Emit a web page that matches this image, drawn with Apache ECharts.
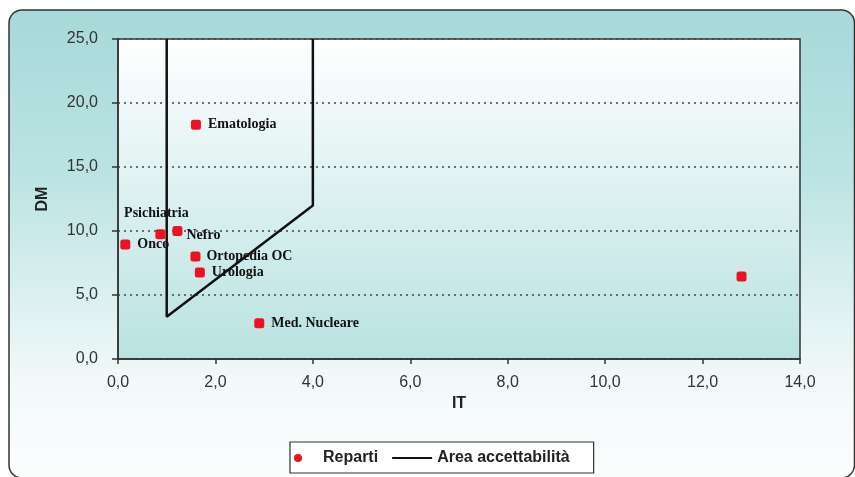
<!DOCTYPE html>
<html>
<head>
<meta charset="utf-8">
<script src="https://cdn.jsdelivr.net/npm/echarts@6/dist/echarts.min.js"></script>
<style>
html,body{margin:0;padding:0;background:#ffffff;}
#chart{width:855px;height:477px;}
</style>
</head>
<body>
<div id="chart"></div>
<script>
// ---- Data ----
const repartiNames = ['Ematologia', 'Psichiatria', 'Nefro', 'Onco', 'Ortopedia OC', 'Urologia', 'Med. Nucleare', ''];
const repartiIT = [1.6, 0.87, 1.22, 0.15, 1.59, 1.68, 2.9, 12.8];
const repartiDM = [18.3, 9.75, 10.0, 8.95, 8.0, 6.75, 2.8, 6.45];
const areaIT = [1, 1, 4, 4];
const areaDM = [25, 3.3, 12, 25];
const xTicks = [0, 2, 4, 6, 8, 10, 12, 14];
const yTicks = [0, 5, 10, 15, 20, 25];
const seriesNames = ['Reparti', 'Area accettabilità'];
const axisNames = {x: 'IT', y: 'DM'};

// ---- Label placement tweaks (style, not data) ----
const labelTweaks = {
  'Psichiatria': {position: 'top', distance: 9, offset: [-4, 0]},
  'Nefro': {position: 'right', distance: 4, offset: [0, 4]},
  'Ortopedia OC': {position: 'right', distance: 6}
};

const fmt = v => v.toFixed(1).replace('.', ',');

const scatterData = repartiNames.map((n, i) => {
  const item = {name: n, value: [repartiIT[i], repartiDM[i]]};
  if (labelTweaks[n]) item.label = labelTweaks[n];
  return item;
});
const areaData = areaIT.map((x, i) => [x, areaDM[i]]);

const chart = echarts.init(document.getElementById('chart'), null, {renderer: 'canvas'});

const option = {
  animation: false,
  backgroundColor: '#ffffff',
  graphic: [{
    type: 'rect',
    z: -10,
    silent: true,
    shape: {x: 9, y: 10, width: 845.5, height: 468, r: 13},
    style: {
      fill: new echarts.graphic.LinearGradient(0, 0, 0, 1, [
        {offset: 0, color: '#a7d9d9'},
        {offset: 0.35, color: '#bbe3e3'},
        {offset: 0.8, color: '#f3f9f9'},
        {offset: 1, color: '#fbfdfd'}
      ]),
      stroke: '#333333',
      lineWidth: 1.5
    }
  }],
  grid: {
    left: 118, right: 55, top: 39, bottom: 118,
    show: true,
    outerBoundsMode: 'none',
    borderColor: '#333333',
    borderWidth: 1.5,
    backgroundColor: new echarts.graphic.LinearGradient(0, 0, 0, 1, [
      {offset: 0, color: '#ffffff'},
      {offset: 1, color: '#b8e2e1'}
    ])
  },
  legend: {
    data: [
      {name: seriesNames[0], icon: 'circle'},
      {name: seriesNames[1], itemStyle: {opacity: 0}}
    ],
    left: 290, top: 442,
    itemWidth: 40, itemHeight: 8,
    itemGap: 13,
    padding: [8, 24, 7, 4],
    backgroundColor: '#ffffff',
    borderColor: '#333333',
    borderWidth: 1.2,
    borderRadius: 0,
    textStyle: {fontFamily: 'Liberation Sans, Arial, sans-serif', fontWeight: 'bold', fontSize: 16, color: '#222222'}
  },
  xAxis: {
    type: 'value',
    min: xTicks[0], max: xTicks[xTicks.length - 1], interval: xTicks[1] - xTicks[0],
    name: axisNames.x,
    nameLocation: 'middle',
    nameGap: 35,
    nameTextStyle: {fontFamily: 'Liberation Sans, Arial, sans-serif', fontWeight: 'bold', fontSize: 16, color: '#222222'},
    axisLine: {show: true, lineStyle: {color: '#333333', width: 1.5}},
    axisTick: {show: true, length: 5, lineStyle: {color: '#333333', width: 1.5}},
    axisLabel: {margin: 16, formatter: fmt, fontFamily: 'Liberation Sans, Arial, sans-serif', fontSize: 16, color: '#333333'},
    splitLine: {show: false}
  },
  yAxis: {
    type: 'value',
    min: yTicks[0], max: yTicks[yTicks.length - 1], interval: yTicks[1] - yTicks[0],
    name: axisNames.y,
    nameLocation: 'middle',
    nameRotate: 90,
    nameGap: 67,
    nameTextStyle: {fontFamily: 'Liberation Sans, Arial, sans-serif', fontWeight: 'bold', fontSize: 16, color: '#222222'},
    axisLine: {show: true, lineStyle: {color: '#333333', width: 1.5}},
    axisTick: {show: true, length: 6, lineStyle: {color: '#333333', width: 1.5}},
    axisLabel: {margin: 20, formatter: fmt, fontFamily: 'Liberation Sans, Arial, sans-serif', fontSize: 16, color: '#333333'},
    splitLine: {show: true, lineStyle: {color: '#444444', width: 1.5, type: [2, 4]}}
  },
  series: [
    {
      name: seriesNames[0],
      type: 'scatter',
      symbol: 'roundRect',
      symbolSize: 10,
      itemStyle: {color: '#ee1122', opacity: 1},
      label: {
        show: true,
        position: 'right',
        distance: 7,
        formatter: p => p.name,
        fontFamily: 'Liberation Serif, Times New Roman, serif',
        fontWeight: 'bold',
        fontSize: 14,
        color: '#111111'
      },
      data: scatterData,
      z: 4
    },
    {
      name: seriesNames[1],
      type: 'line',
      symbol: 'none',
      showSymbol: false,
      lineStyle: {color: '#111111', width: 2.5},
      itemStyle: {color: '#111111'},
      data: areaData,
      z: 3
    }
  ]
};
chart.setOption(option);
</script>
</body>
</html>
